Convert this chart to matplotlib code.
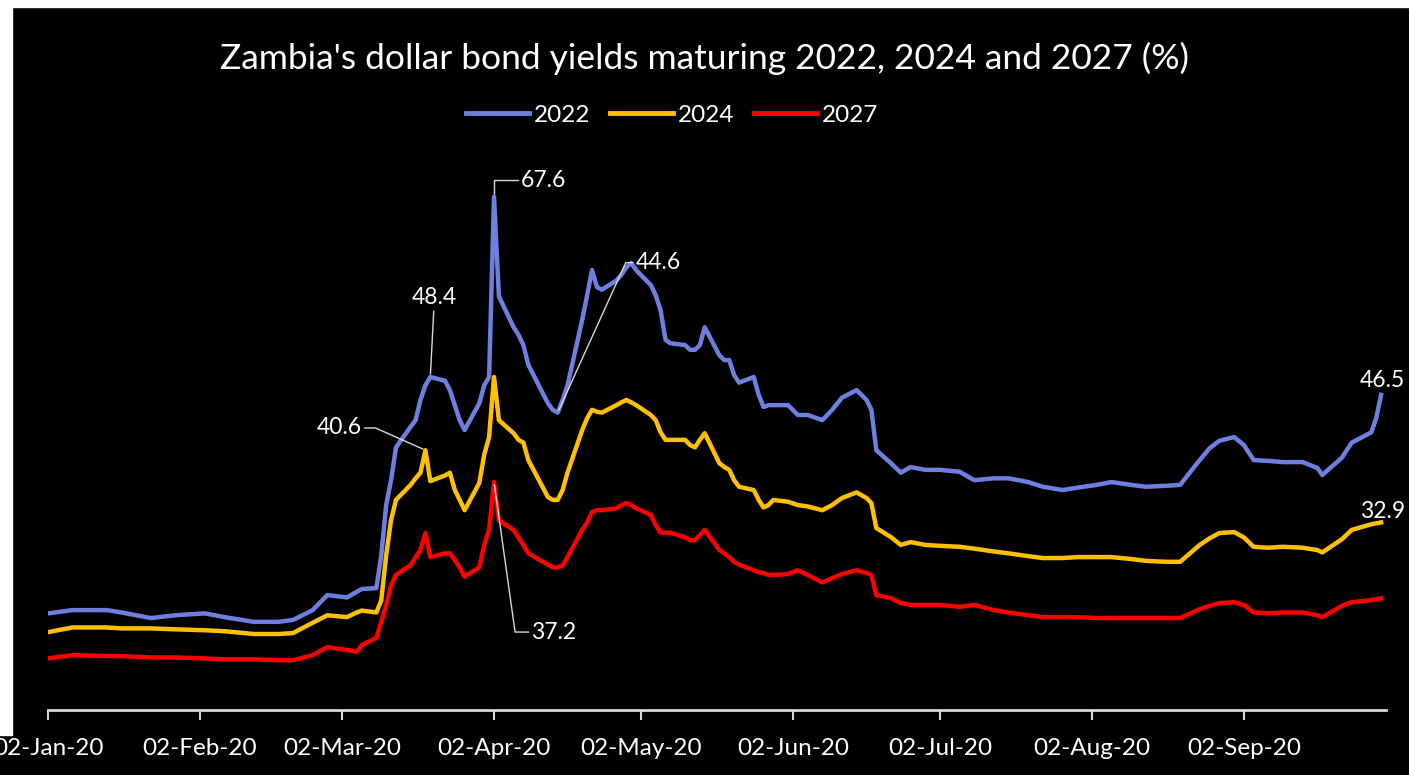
import matplotlib
matplotlib.use("Agg")
import matplotlib.pyplot as plt
import matplotlib.dates as mdates
from matplotlib.lines import Line2D
from matplotlib.patches import Rectangle
import pandas as pd

dates = [
    "2020-01-02", "2020-01-07", "2020-01-14", "2020-01-17", "2020-01-23", "2020-01-28",
    "2020-02-03", "2020-02-07", "2020-02-13", "2020-02-18", "2020-02-21", "2020-02-25", "2020-02-28",
    "2020-03-03", "2020-03-05", "2020-03-06", "2020-03-09", "2020-03-10", "2020-03-11", "2020-03-12", "2020-03-13",
    "2020-03-16", "2020-03-17", "2020-03-18", "2020-03-19", "2020-03-20", "2020-03-23", "2020-03-24", "2020-03-25", "2020-03-26", "2020-03-27",
    "2020-03-30", "2020-03-31", "2020-04-01", "2020-04-02", "2020-04-03", "2020-04-06", "2020-04-07", "2020-04-08", "2020-04-09",
    "2020-04-13", "2020-04-14", "2020-04-15", "2020-04-16", "2020-04-17", "2020-04-20", "2020-04-21", "2020-04-22", "2020-04-23", "2020-04-24",
    "2020-04-27", "2020-04-28", "2020-04-29", "2020-04-30", "2020-05-01", "2020-05-04", "2020-05-05", "2020-05-06", "2020-05-07", "2020-05-08",
    "2020-05-11", "2020-05-12", "2020-05-13", "2020-05-14", "2020-05-15", "2020-05-18", "2020-05-19", "2020-05-20", "2020-05-21", "2020-05-22",
    "2020-05-25", "2020-05-26", "2020-05-27", "2020-05-28", "2020-05-29", "2020-06-01", "2020-06-03", "2020-06-05", "2020-06-08", "2020-06-10",
    "2020-06-12", "2020-06-15", "2020-06-17", "2020-06-18", "2020-06-19", "2020-06-22", "2020-06-24", "2020-06-26", "2020-06-29", "2020-07-02",
    "2020-07-06", "2020-07-09", "2020-07-13", "2020-07-16", "2020-07-20", "2020-07-23", "2020-07-27", "2020-07-30", "2020-08-03", "2020-08-06",
    "2020-08-10", "2020-08-13", "2020-08-17", "2020-08-20", "2020-08-24", "2020-08-26", "2020-08-28", "2020-08-31", "2020-09-02", "2020-09-04",
    "2020-09-07", "2020-09-10", "2020-09-14", "2020-09-17", "2020-09-18", "2020-09-22", "2020-09-24", "2020-09-28", "2020-09-29", "2020-09-30",
]

y2022 = [
    23.2, 23.55, 23.55, 23.3, 22.7, 23.0,
    23.2, 22.8, 22.3, 22.3, 22.5, 23.55, 25.15,
    24.9, 25.5, 25.8, 25.9, 29.4, 34.75, 37.4, 40.9,
    43.1, 43.8, 45.95, 47.5, 48.4, 48.0, 47.0, 45.4, 43.8, 42.75,
    45.6, 47.5, 48.4, 67.6, 57.0, 53.7, 52.9, 51.8, 49.7,
    45.6, 44.9, 44.6, 45.95, 47.5, 54.5, 57.1, 59.8, 58.0, 57.7,
    58.7, 59.3, 60.1, 60.56, 59.8, 58.2, 57.1, 55.5, 52.35, 52.0,
    51.8, 51.3, 51.3, 51.8, 53.7, 50.7, 50.2, 50.2, 48.6, 47.8,
    48.4, 46.5, 45.2, 45.4, 45.4, 45.4, 44.35, 44.35, 43.8, 44.9,
    46.2, 47.0, 45.95, 44.9, 40.6, 39.2, 38.2, 38.8, 38.5, 38.5,
    38.3, 37.4, 37.6, 37.6, 37.2, 36.7, 36.35, 36.6, 36.9, 37.2,
    36.9, 36.7, 36.8, 36.9, 39.55, 40.8, 41.6, 42.0, 41.15, 39.55,
    39.45, 39.33, 39.33, 38.7, 37.95, 39.8, 41.4, 42.5, 44.0, 46.5,
]

y2024 = [
    21.2, 21.7, 21.7, 21.6, 21.6, 21.5,
    21.4, 21.3, 21.0, 21.0, 21.1, 22.2, 23.0,
    22.8, 23.3, 23.5, 23.3, 24.6, 29.4, 33.15, 35.3,
    36.9, 37.6, 38.2, 40.6, 37.3, 37.9, 38.2, 36.35, 35.3, 34.2,
    37.1, 40.1, 42.0, 48.4, 43.8, 42.4, 41.7, 41.4, 39.55,
    35.6, 35.3, 35.3, 36.35, 38.2, 42.75, 44.0, 44.9, 44.7, 44.6,
    45.4, 45.7, 45.95, 45.7, 45.4, 44.35, 43.8, 42.5, 41.7, 41.7,
    41.7, 41.15, 40.9, 41.7, 42.4, 39.2, 38.8, 38.5, 37.4, 36.7,
    36.35, 35.3, 34.5, 34.75, 35.3, 35.1, 34.75, 34.6, 34.2, 34.75,
    35.5, 36.1, 35.5, 34.96, 32.3, 31.33, 30.5, 30.8, 30.5, 30.4,
    30.3, 30.1, 29.8, 29.6, 29.3, 29.1, 29.1, 29.2, 29.2, 29.2,
    29.0, 28.8, 28.7, 28.7, 30.5, 31.2, 31.76, 31.87, 31.3, 30.3,
    30.2, 30.3, 30.2, 29.95, 29.7, 31.1, 32.1, 32.7, 32.8, 32.9,
]

y2027 = [
    18.4, 18.75, 18.65, 18.65, 18.5, 18.5,
    18.4, 18.3, 18.3, 18.2, 18.2, 18.75, 19.6,
    19.3, 19.1, 19.8, 20.6, 22.3, 24.1, 26.2, 27.3,
    28.35, 29.2, 29.95, 31.76, 29.2, 29.6, 29.6, 28.9, 28.1, 27.1,
    28.1, 30.5, 32.1, 37.2, 33.1, 32.1, 31.3, 30.5, 29.6,
    28.4, 28.1, 28.1, 28.3, 29.2, 32.1, 32.9, 34.0, 34.2, 34.2,
    34.4, 34.75, 34.96, 34.75, 34.4, 33.7, 32.6, 31.8, 31.8, 31.8,
    31.3, 31.0, 31.0, 31.55, 32.1, 29.95, 29.6, 29.2, 28.7, 28.4,
    27.8, 27.6, 27.5, 27.3, 27.3, 27.4, 27.8, 27.3, 26.5, 26.95,
    27.4, 27.8, 27.5, 27.3, 25.15, 24.83, 24.3, 24.1, 24.1, 24.1,
    23.9, 24.1, 23.55, 23.3, 23.0, 22.8, 22.8, 22.8, 22.7, 22.7,
    22.7, 22.7, 22.7, 22.7, 23.65, 24.0, 24.3, 24.4, 24.1, 23.3,
    23.2, 23.3, 23.3, 23.0, 22.8, 24.0, 24.4, 24.6, 24.7, 24.8,
]

series_names = ["2022", "2024", "2027"]
colors = ["#6f7fe0", "#ffc000", "#ff0000"]

df = pd.DataFrame({"2022": y2022, "2024": y2024, "2027": y2027}, index=pd.to_datetime(dates))

plt.rcParams["font.family"] = ["Lato", "DejaVu Sans"]

fig = plt.figure(figsize=(14.09, 7.75), dpi=100, facecolor="black")
ax = fig.add_axes([48 / 1409, 65 / 775, (1386 - 48) / 1409, 560 / 775])
ax.set_facecolor("black")

for name, col in zip(series_names, colors):
    ax.plot(df.index, df[name], color=col, lw=3.2, solid_joinstyle="round")

ax.set_xlim(pd.Timestamp("2020-01-02"), pd.Timestamp("2020-10-01"))
ax.set_ylim(12.9, 72.6)

ax.xaxis.set_major_locator(mdates.MonthLocator(bymonthday=2))
ax.xaxis.set_major_formatter(mdates.DateFormatter("%d-%b-%y"))
ax.tick_params(axis="x", colors="#d9d9d9", labelcolor="white", labelsize=17.5,
               length=7, width=1.5, direction="out", pad=13)
ax.set_yticks([])
for s in ["top", "right", "left"]:
    ax.spines[s].set_visible(False)
ax.spines["bottom"].set_color("#d9d9d9")
ax.spines["bottom"].set_linewidth(2)

# data labels with leader lines
lead = dict(arrowstyle="-", color="#d9d9d9", lw=1, shrinkA=0, shrinkB=2)
txt = dict(color="white", fontsize=16.5, textcoords="offset points", annotation_clip=False)

ax.annotate("67.6", xy=(df.index[34], y2022[34]), xytext=(19, 12), ha="left", va="center",
            arrowprops=dict(lead, connectionstyle="angle,angleA=0,angleB=90,rad=0"), **txt)
ax.annotate("48.4", xy=(df.index[25], y2022[25]), xytext=(3, 57), ha="center", va="center",
            arrowprops=dict(lead), **txt)
ax.annotate("40.6", xy=(df.index[24], y2024[24]), xytext=(-46, 16), ha="right", va="center",
            arrowprops=dict(lead, connectionstyle="angle,angleA=0,angleB=-24,rad=0"), **txt)
ax.annotate("44.6", xy=(df.index[42], y2022[42]), xytext=(56, 108), ha="left", va="center",
            arrowprops=dict(lead, connectionstyle="angle,angleA=0,angleB=65.6,rad=0"), **txt)
ax.annotate("37.2", xy=(df.index[34], y2027[34]), xytext=(27, -108), ha="left", va="center",
            arrowprops=dict(lead, connectionstyle="angle,angleA=0,angleB=-82,rad=0"), **txt)
# end-of-series labels, kept just inside the right edge
ax.annotate("46.5", xy=(df.index[-1], y2022[-1]), xytext=(17, 10), ha="right", va="center", **txt)
ax.annotate("32.9", xy=(df.index[-1], y2024[-1]), xytext=(17, 8), ha="right", va="center", **txt)

fig.text(705 / 1409, 1 - 58 / 775, "Zambia's dollar bond yields maturing 2022, 2024 and 2027 (%)",
         color="white", fontsize=25.5, ha="center", va="center")

handles = [Line2D([], [], color=c, lw=3.5) for c in colors]
leg = fig.legend(handles, series_names, loc="center", bbox_to_anchor=(672 / 1409, 1 - 115 / 775),
                 ncol=3, frameon=False, fontsize=17.5, handlelength=2.6, handletextpad=0.2,
                 columnspacing=0.8)
for t in leg.get_texts():
    t.set_color("white")

# white scan margins at the top and left edge
fig.patches.append(Rectangle((0, 1 - 7 / 775), 1, 7 / 775, transform=fig.transFigure,
                             color="white", zorder=5))
fig.patches.append(Rectangle((0, 40 / 775), 12 / 1409, 1, transform=fig.transFigure,
                             color="white", zorder=5))

fig.savefig("out.png", dpi=100, facecolor="black")
